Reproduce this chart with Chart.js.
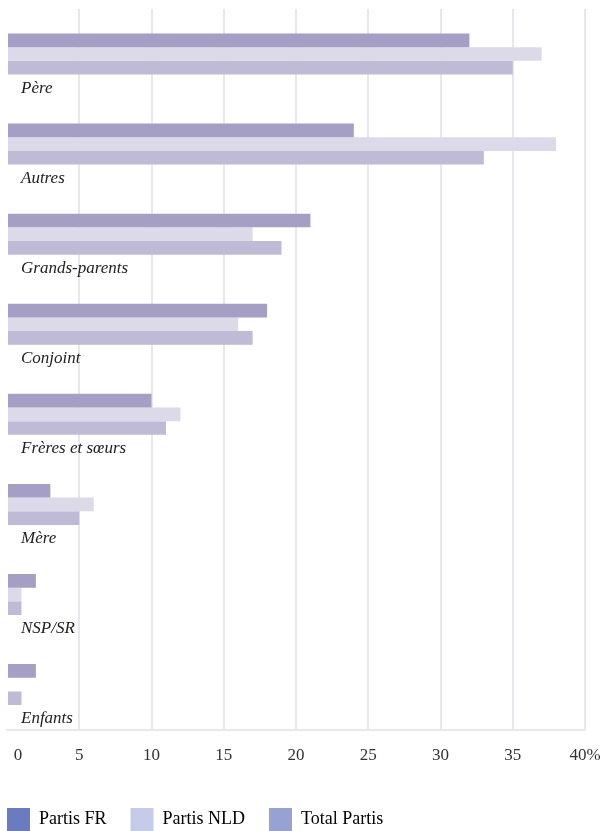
<!DOCTYPE html>
<html>
<head>
<meta charset="utf-8">
<script src="https://cdn.jsdelivr.net/npm/chart.js@4.4.1/dist/chart.umd.min.js"></script>
<style>
  html, body { margin: 0; padding: 0; background: #fff; }
  #wrap { width: 605px; height: 831px; }
</style>
</head>
<body>
<div id="wrap"><canvas id="myChart"></canvas></div>
<script>
// Categories and values (%)
const categories = ['Père', 'Autres', 'Grands-parents', 'Conjoint', 'Frères et sœurs', 'Mère', 'NSP/SR', 'Enfants'];
const partisFR = [32, 24, 21, 18, 10, 3, 2, 2];
const partisNLD = [37, 38, 17, 16, 12, 6, 1, 0];
const totalPartis = [35, 33, 19, 17, 11, 5, 1, 1];
const xTicks = [0, 5, 10, 15, 20, 25, 30, 35, 40];

const seriesNames = ['Partis FR', 'Partis NLD', 'Total Partis'];
const barColors = ['#a59fc5', '#dcdae8', '#bfbbd6'];
const legendColors = ['#6b7bbf', '#c6cbe9', '#97a1d2'];

const serif = "'Liberation Serif', 'DejaVu Serif', serif";
const legendGap = 24;

// legend starts flush with the plot's left edge, gap only between items
const legendShift = {
    id: 'legendShift',
    afterLayout(chart) {
        chart.legend.left -= legendGap;
        chart.legend.top += 2;
    }
};

// nudge the "0" label inward so it sits clear of the left edge
const zeroLabelNudge = {
    id: 'zeroLabelNudge',
    beforeDraw(chart) {
        const items = chart.scales.x.getLabelItems(chart.chartArea);
        if (items.length) items[0].options.translation[0] += 11;
    }
};

// let layout.padding alone decide the plot margins
function noAutoPadding(axis) {
    axis.paddingLeft = 0;
    axis.paddingRight = 0;
    axis.paddingTop = 0;
    axis.paddingBottom = 0;
}

const ctx = document.getElementById('myChart').getContext('2d');
new Chart(ctx, {
    type: 'bar',
    data: {
        labels: categories,
        datasets: [partisFR, partisNLD, totalPartis].map((values, i) => ({
            label: seriesNames[i],
            data: values,
            backgroundColor: barColors[i],
            borderWidth: 0,
            barPercentage: 1,
            categoryPercentage: 0.455
        }))
    },
    options: {
        indexAxis: 'y',
        responsive: true,
        maintainAspectRatio: false,
        animation: false,
        layout: { padding: { top: 9, left: 7, right: 20, bottom: -8 } },
        scales: {
            x: {
                min: 0,
                max: 40,
                afterBuildTicks: axis => { axis.ticks = xTicks.map(v => ({ value: v })); },
                afterFit: noAutoPadding,
                grid: {
                    color: c => c.index === 0 ? 'rgba(0,0,0,0)' : '#e8e6ee',
                    lineWidth: 2,
                    drawTicks: false
                },
                border: { display: true, color: '#e8e6ee', width: 2 },
                ticks: {
                    padding: 16,
                    color: '#333',
                    font: { family: serif, size: 17 },
                    callback: v => v === 40 ? '40%' : String(v)
                }
            },
            y: {
                afterFit: axis => { noAutoPadding(axis); axis.width = 0; },
                grid: { display: false, drawTicks: false },
                border: { display: false },
                ticks: {
                    mirror: true,
                    padding: 14,
                    labelOffset: 34,
                    color: '#222',
                    font: { family: serif, size: 17, style: 'italic' }
                }
            }
        },
        plugins: {
            tooltip: { enabled: false },
            legend: {
                position: 'bottom',
                align: 'start',
                labels: {
                    boxWidth: 23,
                    boxHeight: 23,
                    padding: legendGap,
                    color: '#333',
                    font: { family: serif, size: 18 },
                    generateLabels: chart => chart.data.datasets.map((ds, i) => ({
                        text: ds.label,
                        fillStyle: legendColors[i],
                        strokeStyle: legendColors[i],
                        lineWidth: 0,
                        datasetIndex: i
                    }))
                }
            }
        }
    },
    plugins: [legendShift, zeroLabelNudge]
});
</script>
</body>
</html>
